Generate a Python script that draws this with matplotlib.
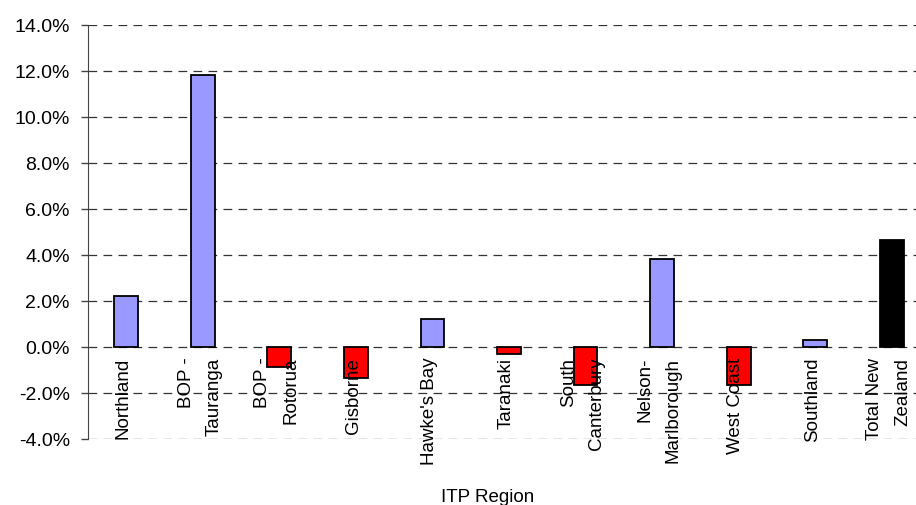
import matplotlib.pyplot as plt
from matplotlib.ticker import FuncFormatter

plt.rcParams['font.family'] = ['Liberation Sans', 'DejaVu Sans']

# ── Data ──────────────────────────────────────────────────
regions = ["Northland", "BOP -\nTauranga", "BOP -\nRotorua", "Gisborne",
           "Hawke's Bay", "Taranaki", "South\nCanterbury", "Nelson-\nMarlborough",
           "West Coast", "Southland", "Total New\nZealand"]
growth = [2.2, 11.84, -0.88, -1.35, 1.22, -0.3, -1.64, 3.83, -1.64, 0.32, 4.67]
yticks = [-4, -2, 0, 2, 4, 6, 8, 10, 12, 14]

# ── Colours ───────────────────────────────────────────────
colors = ['#9999FF' if v >= 0 else '#FF0000' for v in growth]
colors[-1] = '#000000'

# ── Plot ──────────────────────────────────────────────────
fig = plt.figure(figsize=(9.16, 5.06), dpi=100)
ax = fig.add_axes([88 / 916, 66 / 506, 842 / 916, 414 / 506])

x = range(len(regions))
ax.bar(x, growth, width=0.31, color=colors, edgecolor='black', linewidth=1.3, zorder=2)

ax.set_xlim(-0.5, len(regions) - 0.5)
ax.set_ylim(-4, 14)
ax.set_yticks(yticks)
ax.yaxis.set_major_formatter(FuncFormatter(lambda v, _: f"{v:.1f}%"))
ax.tick_params(axis='y', labelsize=14, length=5, width=1, pad=8, color='#444444')
ax.set_xticks([])

for side in ['top', 'right', 'bottom']:
    ax.spines[side].set_visible(False)
ax.spines['left'].set_color('#444444')

ax.yaxis.grid(True, linestyle=(0, (7, 5)), color='#333333', linewidth=0.9, zorder=0)
ax.set_axisbelow(True)

# category labels sit just under the zero line, rotated
for i, name in enumerate(regions):
    ax.annotate(name, xy=(i, 0), xytext=(-2, -7), textcoords='offset points',
                rotation=90, ha='center', va='top', multialignment='right',
                fontsize=13.5, linespacing=1.85, zorder=3, annotation_clip=False)

fig.text(488 / 916, 8 / 506, "ITP Region", ha='center', va='center', fontsize=13.5)

fig.savefig('out.png', dpi=100)
